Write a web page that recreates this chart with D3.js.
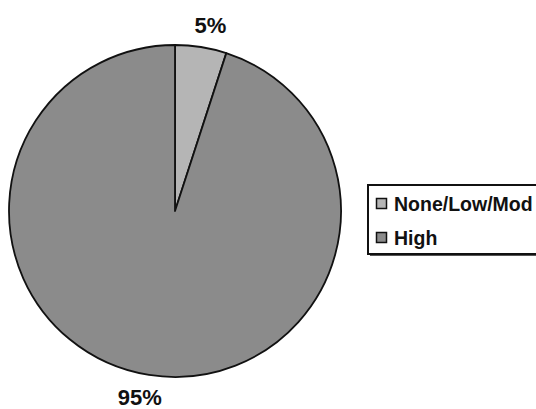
<!DOCTYPE html>
<html>
<head>
<meta charset="utf-8">
<script src="https://cdn.jsdelivr.net/npm/d3@7"></script>
<style>
  html, body { margin: 0; padding: 0; background: #fff; }
  svg { display: block; }
  text { font-family: Arial, "Liberation Sans", sans-serif; font-weight: bold; fill: #111; }
</style>
</head>
<body>
<svg id="chart" width="536" height="409"></svg>
<script>
// Risk level categories and their shares (percent)
const categories = ["None/Low/Mod", "High"];
const values = [5, 95];
const sliceColors = ["#b5b5b5", "#8b8b8b"];

const svg = d3.select("#chart");
const cx = 175, cy = 211, radius = 166;

const pie = d3.pie().sort(null).value(d => d.value);
const arcs = pie(categories.map((c, i) => ({ name: c, value: values[i] })));

const arc = d3.arc().innerRadius(0).outerRadius(radius);
const labelArc = d3.arc().innerRadius(188).outerRadius(188);

const g = svg.append("g").attr("transform", `translate(${cx},${cy})`);

g.selectAll("path.slice")
  .data(arcs)
  .join("path")
  .attr("class", "slice")
  .attr("d", arc)
  .attr("fill", (d, i) => sliceColors[i])
  .attr("stroke", "#111")
  .attr("stroke-width", 1.8)
  .attr("stroke-linejoin", "round");

// Percentage labels outside the pie, pushed sideways away from the vertical axis
g.selectAll("text.pct")
  .data(arcs)
  .join("text")
  .attr("class", "pct")
  .attr("transform", d => {
    const [x, y] = labelArc.centroid(d);
    return `translate(${x * 1.2},${y})`;
  })
  .attr("text-anchor", "middle")
  .attr("dy", "0.36em")
  .attr("font-size", 22)
  .text(d => d.data.value + "%");

// Legend box (runs off the right edge)
const legend = svg.append("g");
legend.append("rect")
  .attr("x", 370).attr("y", 187)
  .attr("width", 190).attr("height", 69)
  .attr("fill", "#555");
legend.append("rect")
  .attr("x", 368).attr("y", 185)
  .attr("width", 190).attr("height", 69)
  .attr("fill", "#fff")
  .attr("stroke", "#111")
  .attr("stroke-width", 2);

const rows = legend.selectAll("g.row")
  .data(categories)
  .join("g")
  .attr("class", "row")
  .attr("transform", (d, i) => `translate(0,${i * 34})`);

rows.append("rect")
  .attr("x", 376.5).attr("y", 198.5)
  .attr("width", 10).attr("height", 10)
  .attr("fill", (d, i) => sliceColors[i])
  .attr("stroke", "#111")
  .attr("stroke-width", 1.5);

rows.append("text")
  .attr("x", 394).attr("y", 210.5)
  .attr("font-size", 19.5)
  .text(d => d);
</script>
</body>
</html>
